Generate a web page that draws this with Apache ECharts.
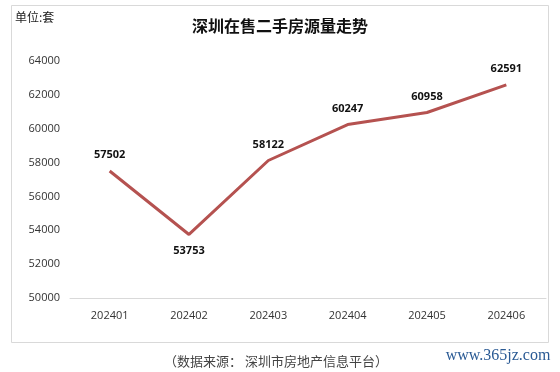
<!DOCTYPE html>
<html><head><meta charset="utf-8">
<script src="https://cdn.jsdelivr.net/npm/echarts@6/dist/echarts.min.js"></script>
<style>html,body{margin:0;padding:0;background:#fff}#c{width:560px;height:372px}</style>
</head><body><div id="c"></div>
<script>
const categories = ['202401','202402','202403','202404','202405','202406'];
const values = [57502, 53753, 58122, 60247, 60958, 62591];
const yTicks = [50000, 52000, 54000, 56000, 58000, 60000, 62000, 64000];
const labelBelow = [false, true, false, false, false, false];

const chart = echarts.init(document.getElementById('c'), null, {renderer:'canvas'});
chart.setOption({
  animation:false,
  backgroundColor:'#fff',
  graphic:[
    {type:'rect', shape:{x:11.5,y:5.5,width:537,height:337}, style:{fill:'none',stroke:'#d9d9d9',lineWidth:1}},
    {type:'text', left:15, top:11, style:{text:'单位:套', font:'12px "Noto Sans CJK SC"', fill:'#222'}},
    {type:'text', x:276, y:361, style:{text:'（数据来源： 深圳市房地产信息平台）', font:'13px "Noto Sans CJK SC"', fill:'#444', align:'center', verticalAlign:'middle'}},
    {type:'text', x:498, y:356, style:{text:'www.365jz.com', font:'16px "Liberation Serif"', fill:'#2a5a94', align:'center', verticalAlign:'middle'}}
  ],
  title:{text:'深圳在售二手房源量走势', left:'center', top:13,
    textStyle:{fontSize:16, fontWeight:'bold', color:'#111', fontFamily:'"Noto Sans CJK SC"'}},
  grid:{left:70, right:14, top:61, bottom:74},
  xAxis:{type:'category', data:categories, boundaryGap:true,
    axisLine:{lineStyle:{color:'#d9d9d9'}}, axisTick:{show:false},
    axisLabel:{color:'#333', fontSize:11, margin:12, fontFamily:'"Open Sans"'}},
  yAxis:{type:'value', min:yTicks[0], max:yTicks[yTicks.length-1], interval:2000,
    splitLine:{show:false}, axisLine:{show:false}, axisTick:{show:false},
    axisLabel:{color:'#333', fontSize:11, margin:10, fontFamily:'"Open Sans"', formatter:v=>String(v)}},
  series:[{type:'line', symbol:'circle', symbolSize:1, showSymbol:true,
    data:values.map((v,i)=>({value:v, label:{position: labelBelow[i] ? 'bottom' : 'top'}})),
    itemStyle:{color:'rgba(0,0,0,0)', borderWidth:0},
    lineStyle:{color:'#b55250', width:3},
    label:{show:true, position:'top', distance:10, fontSize:11, fontWeight:'bold', color:'#111', fontFamily:'"Open Sans"',
      formatter:p=>String(p.value)}
  }]
});
</script></body></html>
